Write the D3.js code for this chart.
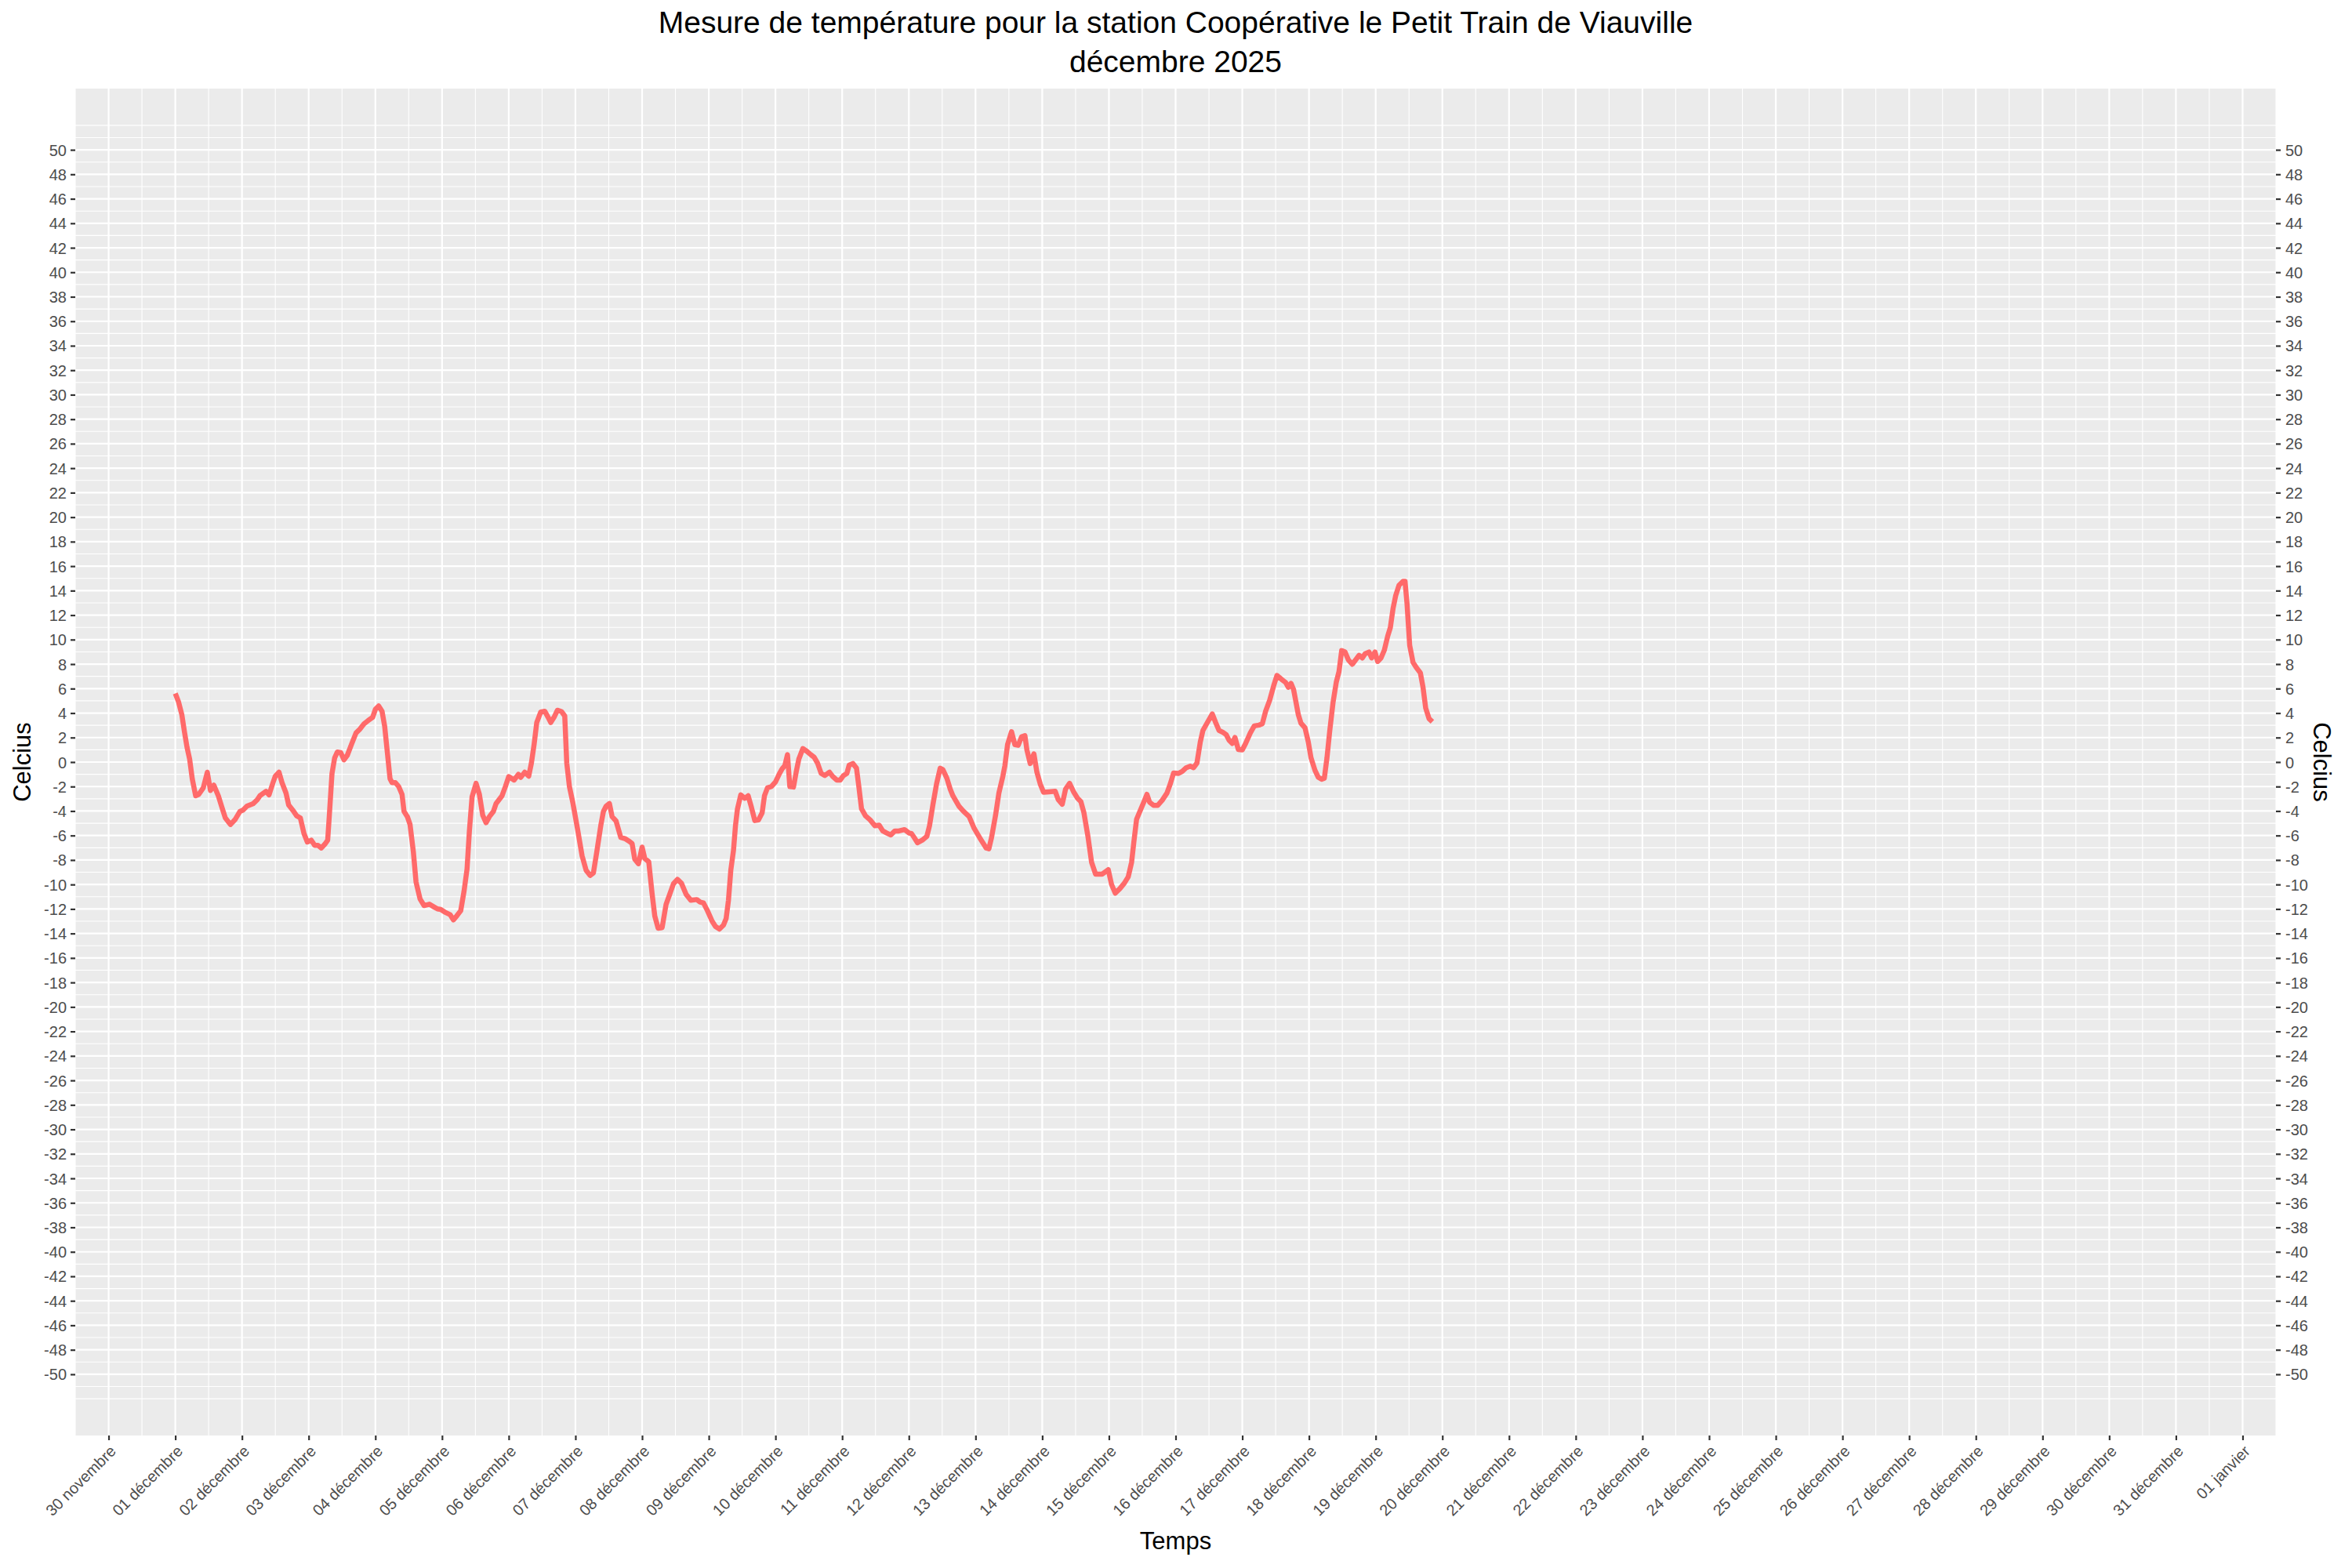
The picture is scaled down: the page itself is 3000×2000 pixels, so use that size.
<!DOCTYPE html>
<html>
<head>
<meta charset="utf-8">
<script src="https://cdn.jsdelivr.net/npm/d3@7"></script>
<style>
  body { margin: 0; background: #fff; }
  svg { display: block; font-family: "Liberation Sans", Arial, Helvetica, sans-serif; }
  .axis text { fill: #4d4d4d; font-size: 20px; }
  .axis line { stroke: #333; stroke-width: 2.2; }
  .axis path { display: none; }
</style>
</head>
<body>
<div id="chart"></div>
<script>
// Titles
var titre = 'Mesure de température pour la station Coopérative le Petit Train de Viauville',
    sousTitre = 'décembre 2025',
    titreX = 'Temps',
    titreY = 'Celcius';

// Mesures : jours écoulés depuis le 1er décembre 00:00 et température (°C)
var jours = [
  0.0, 0.047, 0.098, 0.137, 0.176, 0.215, 0.254, 0.305, 0.352, 0.42, 0.48, 0.527, 0.578, 0.645, 0.70, 0.75, 0.828, 0.90, 0.97,
  1.016, 1.074, 1.17, 1.23, 1.27, 1.36, 1.406, 1.465, 1.50, 1.555, 1.60, 1.66, 1.70, 1.76, 1.82, 1.875, 1.93, 1.98,
  2.04, 2.09, 2.14, 2.19, 2.25, 2.285, 2.31, 2.35, 2.39, 2.43, 2.48, 2.53, 2.58, 2.64, 2.71, 2.77, 2.83, 2.89, 2.96,
  3.0, 3.05, 3.1, 3.14, 3.18, 3.22, 3.25, 3.30, 3.35, 3.40, 3.43, 3.48, 3.52, 3.57, 3.61, 3.67, 3.73, 3.81, 3.875, 3.93, 3.98,
  4.04, 4.12, 4.17, 4.22, 4.28, 4.33, 4.375, 4.41, 4.45, 4.51, 4.56, 4.61, 4.66, 4.71, 4.77, 4.81, 4.90, 4.95,
  5.0, 5.08, 5.145, 5.18, 5.24, 5.30, 5.34, 5.38, 5.42, 5.48, 5.54, 5.59, 5.63, 5.68, 5.73, 5.79, 5.84, 5.87, 5.91, 5.96,
  6.03, 6.10, 6.16, 6.22, 6.27, 6.32, 6.38, 6.42, 6.46, 6.51, 6.55, 6.61, 6.68, 6.75, 6.81, 6.85, 6.89, 6.945,
  7.0, 7.04, 7.10, 7.15, 7.19, 7.24, 7.30, 7.36, 7.41, 7.47, 7.53, 7.59, 7.66, 7.73, 7.82, 7.87, 7.92, 7.98,
  8.05, 8.10, 8.16, 8.22, 8.26, 8.295, 8.33, 8.37, 8.40, 8.43, 8.48, 8.54, 8.59, 8.64, 8.69, 8.745, 8.80, 8.835, 8.88, 8.94,
  9.0, 9.06, 9.10, 9.14, 9.18, 9.215, 9.27, 9.31, 9.35, 9.41, 9.47, 9.53, 9.58, 9.63, 9.685, 9.74, 9.81, 9.86, 9.92, 9.97,
  10.02, 10.07, 10.105, 10.16, 10.215, 10.25, 10.29, 10.35, 10.42, 10.49, 10.555, 10.61, 10.67, 10.73, 10.79, 10.85, 10.935,
  11.005, 11.04, 11.08, 11.13, 11.20, 11.27, 11.31, 11.36, 11.415, 11.47, 11.51, 11.57, 11.62, 11.66, 11.75, 11.82, 11.905, 11.98,
  12.06, 12.16, 12.20, 12.24, 12.30, 12.35, 12.41, 12.44, 12.48, 12.54, 12.59, 12.64, 12.69, 12.74, 12.77, 12.82, 12.875, 12.92, 12.97,
  13.02, 13.10, 13.195, 13.24, 13.30, 13.35, 13.41, 13.47, 13.53, 13.58, 13.625, 13.685, 13.74, 13.80, 13.90, 13.99,
  14.04, 14.095, 14.165, 14.23, 14.29, 14.34, 14.375, 14.415, 14.48, 14.53, 14.57, 14.61, 14.67, 14.73, 14.80, 14.87, 14.92, 14.97,
  15.04, 15.10, 15.16, 15.22, 15.27, 15.32, 15.37, 15.41, 15.47, 15.55, 15.60, 15.65, 15.71, 15.76, 15.80, 15.85, 15.89, 15.94,
  16.0, 16.05, 16.12, 16.18, 16.25, 16.30, 16.35, 16.41, 16.47, 16.52, 16.59, 16.65, 16.69, 16.73, 16.77, 16.80, 16.84, 16.88, 16.94, 16.99,
  17.03, 17.09, 17.14, 17.19, 17.23, 17.27, 17.31, 17.36, 17.41, 17.45, 17.49, 17.54, 17.59, 17.65, 17.71, 17.75, 17.80, 17.84, 17.90, 17.94, 17.99,
  18.03, 18.08, 18.13, 18.18, 18.22, 18.26, 18.30, 18.35, 18.41, 18.44, 18.47, 18.51, 18.56, 18.61, 18.67, 18.71, 18.75, 18.80, 18.85
];

var temperatures = [
  5.6, 4.94, 3.87, 2.48, 1.2, 0.24, -1.36, -2.75, -2.64, -2.1, -0.83, -2.32, -1.89, -2.75, -3.71, -4.56, -5.1, -4.67, -4.03,
  -3.92, -3.6, -3.39, -3.07, -2.75, -2.39, -2.68, -1.68, -1.15, -0.83, -1.68, -2.53, -3.5, -3.92, -4.39, -4.56, -5.84, -6.53,
  -6.38, -6.8, -6.8, -7.02, -6.66, -6.38, -4.35, -0.93, 0.35, 0.82, 0.77, 0.18, 0.56, 1.42, 2.38, 2.7, 3.12, 3.38, 3.66,
  4.3, 4.58, 4.15, 2.91, 0.77, -1.36, -1.68, -1.68, -2.0, -2.64, -4.03, -4.46, -5.1, -7.34, -9.79, -11.18, -11.72, -11.61, -11.82, -11.99, -12.04,
  -12.25, -12.46, -12.89, -12.57, -12.14, -10.54, -8.73, -5.63, -2.85, -1.74, -2.64, -4.35, -4.95, -4.46, -4.03, -3.39, -2.75, -2.0,
  -1.19, -1.47, -1.0, -1.25, -0.83, -1.15, -0.08, 1.42, 3.23, 4.09, 4.15, 3.66, 3.23, 3.66, 4.23, 4.13, 3.76, -0.08, -2.0, -3.28,
  -5.42, -7.66, -8.83, -9.26, -9.05, -7.34, -5.2, -4.03, -3.6, -3.39, -4.46, -4.82, -6.16, -6.27, -6.48, -6.66, -7.94, -8.3,
  -6.95, -7.87, -8.15, -10.76, -12.57, -13.57, -13.53, -11.61, -10.86, -9.94, -9.58, -9.9, -10.8, -11.29, -11.23, -11.44, -11.5, -12.14,
  -13.0, -13.43, -13.64, -13.32, -12.78, -11.29, -8.83, -7.23, -5.2, -3.82, -2.68, -2.96, -2.75, -3.71, -4.78, -4.73, -4.14, -2.75, -2.11, -2.0,
  -1.62, -0.93, -0.55, -0.29, 0.6, -2.0, -2.04, -0.83, 0.24, 1.1, 0.88, 0.6, 0.39, -0.08, -0.93, -1.1, -0.83, -1.19, -1.47, -1.47,
  -1.1, -0.93, -0.25, -0.12, -0.5, -2.0, -3.82, -4.39, -4.73, -5.2, -5.16, -5.63, -5.8, -5.95, -5.63, -5.63, -5.52,
  -5.8, -5.84, -6.16, -6.59, -6.38, -6.06, -5.2, -3.5, -1.79, -0.5, -0.61, -1.32, -2.21, -2.75, -3.6, -4.03, -4.46, -5.42,
  -6.16, -7.02, -7.08, -6.16, -4.35, -2.53, -1.15, -0.29, 1.42, 2.48, 1.42, 1.37, 2.06, 2.16, 0.99, -0.12, 0.67, -0.83, -1.79,
  -2.47, -2.43, -2.39, -3.07, -3.45, -2.21, -1.74, -2.43, -2.96, -3.24, -4.14, -6.06, -8.19, -9.15, -9.15, -8.79,
  -10.01, -10.71, -10.33, -9.9, -9.37, -8.19, -6.48, -4.67, -3.82, -3.18, -2.64, -3.28, -3.54, -3.54, -3.11, -2.54, -1.79, -0.89,
  -0.93, -0.76, -0.46, -0.34, -0.46, -0.08, 1.63, 2.59, 3.17, 3.93, 3.23, 2.59, 2.42, 2.23, 1.8, 1.52, 2.01, 1.03,
  0.99, 1.52, 2.38, 2.95, 3.02, 3.12, 4.15, 5.04, 6.22, 7.07, 6.75, 6.5, 6.11, 6.43, 5.9, 5.04, 3.87, 3.17, 2.8, 1.63,
  0.35, -0.68, -1.25, -1.4, -1.32, 0.35, 2.48, 4.83, 6.54, 7.39, 9.1, 8.99, 8.35, 7.99, 8.42, 8.72, 8.5, 8.84, 8.99, 8.5, 8.99,
  8.21, 8.5, 9.14, 10.28, 10.98, 12.52, 13.59, 14.44, 14.76, 14.76, 12.95, 9.53, 8.14, 7.71, 7.29, 6.11, 4.41, 3.55, 3.29
];

// Axis breaks
var yLimites = [-50, 50],
    yTicks = d3.range(-50, 51, 2),
    yMineurs = d3.range(-52, 53, 1).filter(function(v){ return yTicks.indexOf(v) < 0; }),
    debut = Date.UTC(2025, 11, 1),
    fin = Date.UTC(2025, 11, 31),
    xTicks = d3.utcDay.range(new Date(Date.UTC(2025, 10, 30)), new Date(Date.UTC(2026, 0, 2)));

var mois = ['janvier', 'février', 'mars', 'avril', 'mai', 'juin', 'juillet', 'août',
            'septembre', 'octobre', 'novembre', 'décembre'];

var fr = d3.timeFormatLocale({
  dateTime: '%A %e %B %Y à %X', date: '%d/%m/%Y', time: '%H:%M:%S', periods: ['AM', 'PM'],
  days: ['dimanche', 'lundi', 'mardi', 'mercredi', 'jeudi', 'vendredi', 'samedi'],
  shortDays: ['dim.', 'lun.', 'mar.', 'mer.', 'jeu.', 'ven.', 'sam.'],
  months: mois,
  shortMonths: mois
});
var formatJour = fr.utcFormat('%d %B');

// plain hyphen for negatives, like R does
var formatTemp = function(d){ return String(d); };

var data = jours.map(function(j, i){
  return { date: new Date(debut + j * 864e5), temp: temperatures[i] };
});

// Sizing
var W = 3000, H = 2000,
    panel = { left: 96, right: 2903, top: 113, bottom: 1831 };

// Scales (ggplot-like 5% expansion)
var xPad = (fin - debut) * 0.05,
    yPad = (yLimites[1] - yLimites[0]) * 0.05;

var x = d3.scaleUtc()
  .domain([new Date(debut - xPad), new Date(fin + xPad)])
  .range([panel.left, panel.right]);

var y = d3.scaleLinear()
  .domain([yLimites[0] - yPad, yLimites[1] + yPad])
  .range([panel.bottom, panel.top]);

var xMineurs = [];
for (var t = x.domain()[0].getTime(); t <= x.domain()[1].getTime() + 1; t += 864e5) {
  xMineurs.push(new Date(t));
}

var svg = d3.select('#chart').append('svg')
  .attr('width', W)
  .attr('height', H);

// Panel background
svg.append('rect')
  .attr('x', panel.left)
  .attr('y', panel.top)
  .attr('width', panel.right - panel.left)
  .attr('height', panel.bottom - panel.top)
  .attr('fill', '#ebebeb');

// Grid
var grid = svg.append('g').attr('class', 'grid');

grid.selectAll('.hmin').data(yMineurs).enter().append('line')
  .attr('class', 'hmin')
  .attr('x1', panel.left).attr('x2', panel.right)
  .attr('y1', function(d){ return y(d); }).attr('y2', function(d){ return y(d); })
  .attr('stroke', '#fff').attr('stroke-width', 1.1);

grid.selectAll('.vmin').data(xMineurs).enter().append('line')
  .attr('class', 'vmin')
  .attr('y1', panel.top).attr('y2', panel.bottom)
  .attr('x1', function(d){ return x(d); }).attr('x2', function(d){ return x(d); })
  .attr('stroke', '#fff').attr('stroke-width', 1.1);

grid.selectAll('.hmaj').data(yTicks).enter().append('line')
  .attr('class', 'hmaj')
  .attr('x1', panel.left).attr('x2', panel.right)
  .attr('y1', function(d){ return y(d); }).attr('y2', function(d){ return y(d); })
  .attr('stroke', '#fff').attr('stroke-width', 2.2);

grid.selectAll('.vmaj').data(xTicks).enter().append('line')
  .attr('class', 'vmaj')
  .attr('y1', panel.top).attr('y2', panel.bottom)
  .attr('x1', function(d){ return x(d); }).attr('x2', function(d){ return x(d); })
  .attr('stroke', '#fff').attr('stroke-width', 2.2);

// Line
var ligne = d3.line()
  .x(function(d){ return x(d.date); })
  .y(function(d){ return y(d.temp); });

svg.append('path')
  .datum(data)
  .attr('d', ligne)
  .attr('fill', 'none')
  .attr('stroke', '#ff6a6a')
  .attr('stroke-width', 6.5)
  .attr('stroke-linejoin', 'round');

// Axes
svg.append('g')
  .attr('class', 'axis y-left')
  .attr('transform', translate(panel.left, 0))
  .call(d3.axisLeft(y).tickValues(yTicks).tickSize(6).tickPadding(5).tickFormat(formatTemp))
  .selectAll('text').attr('dy', '0.35em');

svg.append('g')
  .attr('class', 'axis y-right')
  .attr('transform', translate(panel.right, 0))
  .call(d3.axisRight(y).tickValues(yTicks).tickSize(6).tickPadding(6).tickFormat(formatTemp))
  .selectAll('text').attr('dy', '0.35em');

var xAxis = svg.append('g')
  .attr('class', 'axis x-bottom')
  .attr('transform', translate(0, panel.bottom))
  .call(d3.axisBottom(x).tickValues(xTicks).tickSize(6).tickFormat(formatJour));

xAxis.selectAll('text')
  .attr('y', 0)
  .attr('dy', '0.72em')
  .attr('text-anchor', 'end')
  .attr('transform', 'translate(0,11) rotate(-45)');

// Titles
svg.append('text')
  .attr('x', (panel.left + panel.right) / 2)
  .attr('y', 42)
  .attr('text-anchor', 'middle')
  .style('font-size', '39px')
  .text(titre);

svg.append('text')
  .attr('x', (panel.left + panel.right) / 2)
  .attr('y', 92)
  .attr('text-anchor', 'middle')
  .style('font-size', '39px')
  .text(sousTitre);

svg.append('text')
  .attr('x', (panel.left + panel.right) / 2)
  .attr('y', 1976)
  .attr('text-anchor', 'middle')
  .style('font-size', '31px')
  .text(titreX);

svg.append('text')
  .attr('transform', translate(39, (panel.top + panel.bottom) / 2) + ' rotate(-90)')
  .attr('text-anchor', 'middle')
  .style('font-size', '31px')
  .text(titreY);

svg.append('text')
  .attr('transform', translate(2951, (panel.top + panel.bottom) / 2) + ' rotate(90)')
  .attr('text-anchor', 'middle')
  .style('font-size', '31px')
  .text(titreY);

function translate(x, y){
  return 'translate(' + x + ',' + y + ')';
}
</script>
</body>
</html>
